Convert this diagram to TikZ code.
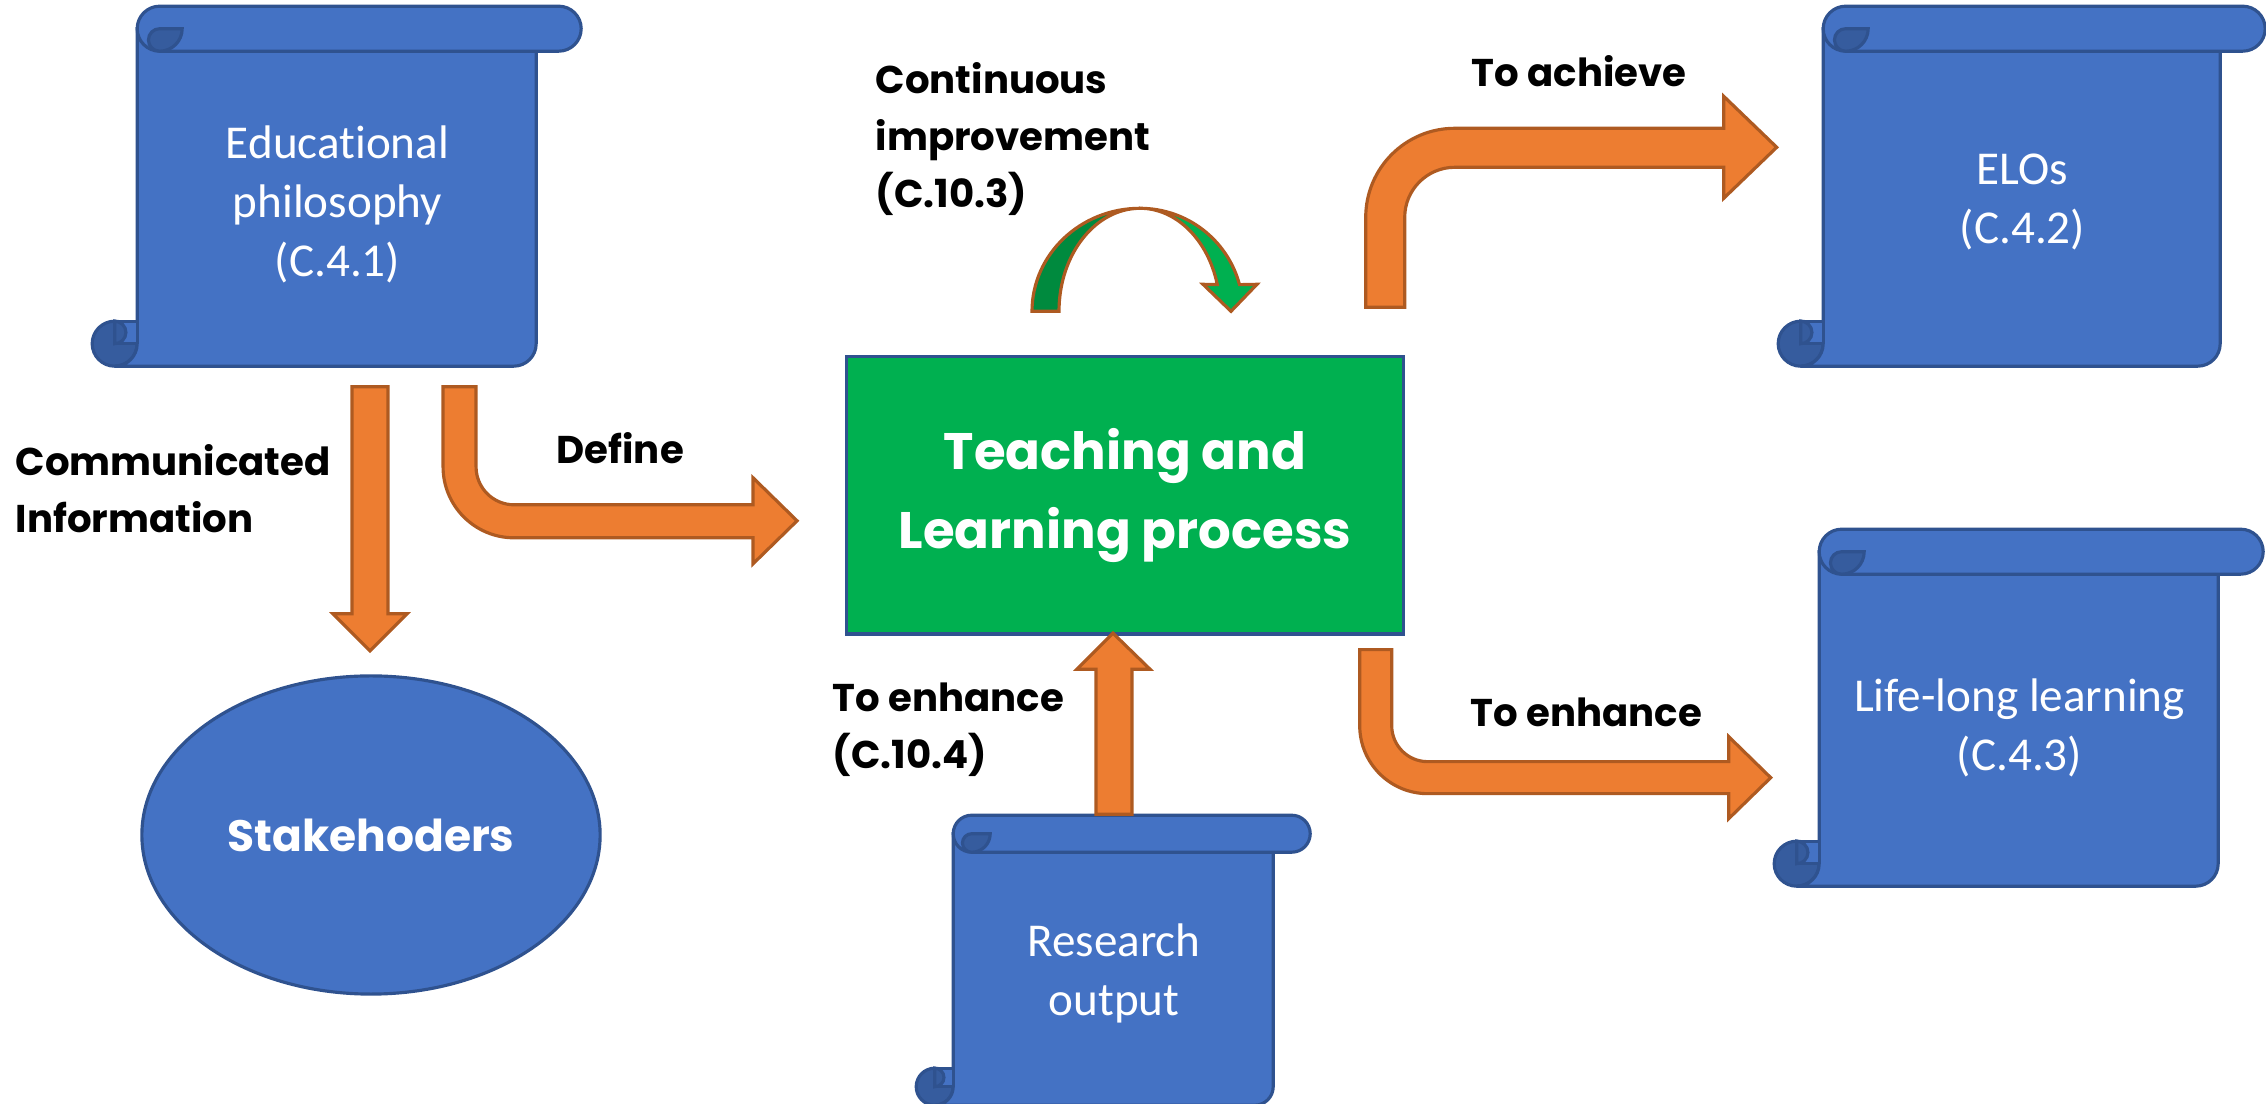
\documentclass[tikz,border=0pt]{standalone}
\usepackage{fontspec}
\newfontfamily\scrollfont{Carlito}[Ligatures=NoCommon]
\newfontfamily\handfont{Poppins}
\usetikzlibrary{positioning}
\usetikzlibrary{calc}
\usetikzlibrary{shapes.geometric}
\usetikzlibrary{backgrounds}
\definecolor{scrollblue}{HTML}{4472C4}
\definecolor{scrolledge}{HTML}{2F528F}
\definecolor{curlblue}{HTML}{365C9E}
\definecolor{arrorange}{HTML}{ED7D31}
\definecolor{arredge}{HTML}{AE5A21}
\definecolor{tlgreen}{HTML}{00B050}
\definecolor{loopdark}{HTML}{008A3E}
\tikzset{
  scroll node/.style={text=white, align=center, inner sep=0pt, font=\scrollfont\fontsize{13.4}{16.8}\selectfont},
  lbl/.style={anchor=west, align=left, inner sep=0pt, font=\handfont\bfseries\fontsize{11}{16.2}\selectfont},
  blockarr/.style={fill=arrorange, draw=arredge, line width=0.9pt},
  scrollpart/.style={fill=scrollblue, draw=scrolledge, line width=0.9pt},
  curlpart/.style={fill=curlblue, draw=scrolledge, line width=0.9pt},
  pics/scroll/.style n args={3}{code={
    \begin{scope}[shift={(-#3,-#3/2)}]
      \filldraw [curlpart] (#3/2,#2-#3/2) circle [radius=#3/2];
      \filldraw [scrollpart] (#3,#3/2) -- (#3,#2-#3/2) arc [start angle=0, end angle=90, radius=#3/2]
        -- (#1-#3-#3/2,#2) arc [start angle=90, end angle=0, radius=#3/2] -- (#1-#3,#3/2) -- cycle;
      \fill [scrollblue] (#3/2,#2-#3) rectangle (#3-1,#2-#3/2);
      \draw [scrolledge, line width=0.9pt] (#3/2,#2-#3) -- (#3,#2-#3) (#3/2,#2-#3/2) -- (#3,#2-#3/2);
      \filldraw [curlpart] (#3/2,#2-#3) arc [start angle=270, end angle=450, radius=#3/4] -- cycle;
      \filldraw [scrollpart] (#3,#3/2) arc [start angle=180, end angle=270, radius=#3/2] -- (#1-#3/2,0)
        arc [start angle=270, end angle=450, radius=#3/2] -- (#3+#3/2,#3) arc [start angle=90, end angle=180, radius=#3/2] -- cycle;
      \filldraw [curlpart] (#3+#3/2,#3/2) -- (2*#3,#3/2) arc [start angle=0, end angle=90, radius=#3/2]
        arc [start angle=90, end angle=270, radius=#3/4] -- cycle;
    \end{scope}
  }}
}

\begin{document}
\begin{tikzpicture}[x=0.01cm, y=-0.01cm]
    \useasboundingbox (0, 0) rectangle (2266, 1104);

    \node [scroll node, minimum width=3.99cm, minimum height=3.375cm] (phil) at (337.5, 204.25) {Educational\\philosophy\\(C.4.1)};
    \node [scroll node, minimum width=3.97cm, minimum height=3.375cm] (elos) at (2022.5, 202.25) {ELOs\\(C.4.2)};
    \node [scroll node, minimum width=3.99cm, minimum height=3.345cm] (lll) at (2019.5, 727.75) {Life-long learning\\(C.4.3)};
    \node [scroll node, minimum width=3.2cm, minimum height=2.715cm] (res) at (1114, 973.25) {Research\\output};

    \node [ellipse, draw=scrolledge, fill=scrollblue, line width=0.9pt, minimum width=4.58cm, minimum height=3.18cm, inner sep=0pt, text=white, font=\handfont\bfseries\fontsize{12.5}{15}\selectfont] (stake) at (371, 835) {Stakehoders};
    \node [draw=scrolledge, fill=tlgreen, line width=0.9pt, minimum width=5.56cm, minimum height=2.77cm, align=center, text=white, font=\handfont\bfseries\fontsize{14.6}{22.4}\selectfont] (tlp) at (1125, 495.5) {Teaching and\\Learning process};

    \begin{scope}[on background layer]
        \pic at ([yshift=0.06cm]phil.north west) {scroll={489}{360}{45}};
        \pic at ([yshift=0.04cm]elos.north west) {scroll={487}{360}{45}};
        \pic at ([yshift=0.08cm]lll.north west) {scroll={489}{357}{45}};
        \pic at ([yshift=0.03cm]res.north west) {scroll={394}{290}{37}};
    \end{scope}

    \coordinate [below right=0.13cm and 0.145cm of phil.south] (comm_tail);
    \coordinate [below right=0.13cm and 1.055cm of phil.south] (def_tail);
    \coordinate [above left=0.48cm and 0.39cm of tlp.north east] (ach_tail);
    \coordinate [below left=0.14cm and 0.45cm of tlp.south east] (enh_tail);
    \coordinate [above left=0.225cm and 0.18cm of res.north] (res_tail);
    \coordinate [above right=0.44cm and 0.15cm of tlp.north] (loop_c);

    % phil -> stake
    \draw [blockarr] (comm_tail) -- ++(36,0) -- ++(0,227) -- ++(19,0) -- ++(-37,37) -- ++(-37,-37) -- ++(19,0) -- cycle;
    % phil -> tlp
    \draw [blockarr] (def_tail) -- ++(0,80) arc [start angle=180, end angle=90, radius=71] -- ++(239,0) -- ++(0,26)
        -- ++(44,-43) -- ++(-44,-43) -- ++(0,27) -- ++(-239,0) arc [start angle=90, end angle=180, radius=38] -- ++(0,-80) -- cycle;
    % tlp -> elos
    \draw [blockarr] (ach_tail) -- ++(0,-90) arc [start angle=180, end angle=270, radius=89] -- ++(269,0) -- ++(0,-32)
        -- ++(53,51) -- ++(-53,51) -- ++(0,-31) -- ++(-269,0) arc [start angle=270, end angle=180, radius=50] -- ++(0,90) -- cycle;
    % tlp -> lll
    \draw [blockarr] (enh_tail) -- ++(0,76) arc [start angle=180, end angle=90, radius=68] -- ++(301,0) -- ++(0,25)
        -- ++(42,-41) -- ++(-42,-41) -- ++(0,25) -- ++(-301,0) arc [start angle=90, end angle=180, radius=36] -- ++(0,-76) -- cycle;
    % res -> tlp
    \draw [blockarr] (res_tail) -- ++(0,-145) -- ++(-19,0) -- ++(36,-36) -- ++(37,36) -- ++(-18,0) -- ++(0,145) -- cycle;

    % tlp -> tlp
    \begin{scope}[shift={(loop_c)}]
        \filldraw [fill=loopdark, draw=arredge, line width=0.9pt] (-108,0) arc [start angle=180, end angle=270, x radius=108, y radius=103]
            arc [start angle=270, end angle=180, x radius=81, y radius=103] -- cycle;
        \filldraw [fill=tlgreen, draw=arredge, line width=0.9pt] (0,-103) arc [start angle=270, end angle=345, x radius=103, y radius=103]
            -- (117,-27) -- (91,0) -- (63,-27) -- (77.3,-26.7) arc [start angle=345, end angle=270, x radius=80, y radius=103] -- cycle;
    \end{scope}

    \node [lbl] (comm_lbl) at (15, 489) {Communicated\\Information};
    \node [lbl] (def_lbl) at (556, 448) {Define};
    \node [lbl] (cont_lbl) at (875, 139) {Continuous\\improvement\\(C.10.3)};
    \node [lbl] (ach_lbl) at (1471, 71) {To achieve};
    \node [lbl] (enh_lbl) at (1470, 712) {To enhance};
    \node [lbl] (res_lbl) at (832, 730) {To enhance\\(C.10.4)};

\end{tikzpicture}
\end{document}
